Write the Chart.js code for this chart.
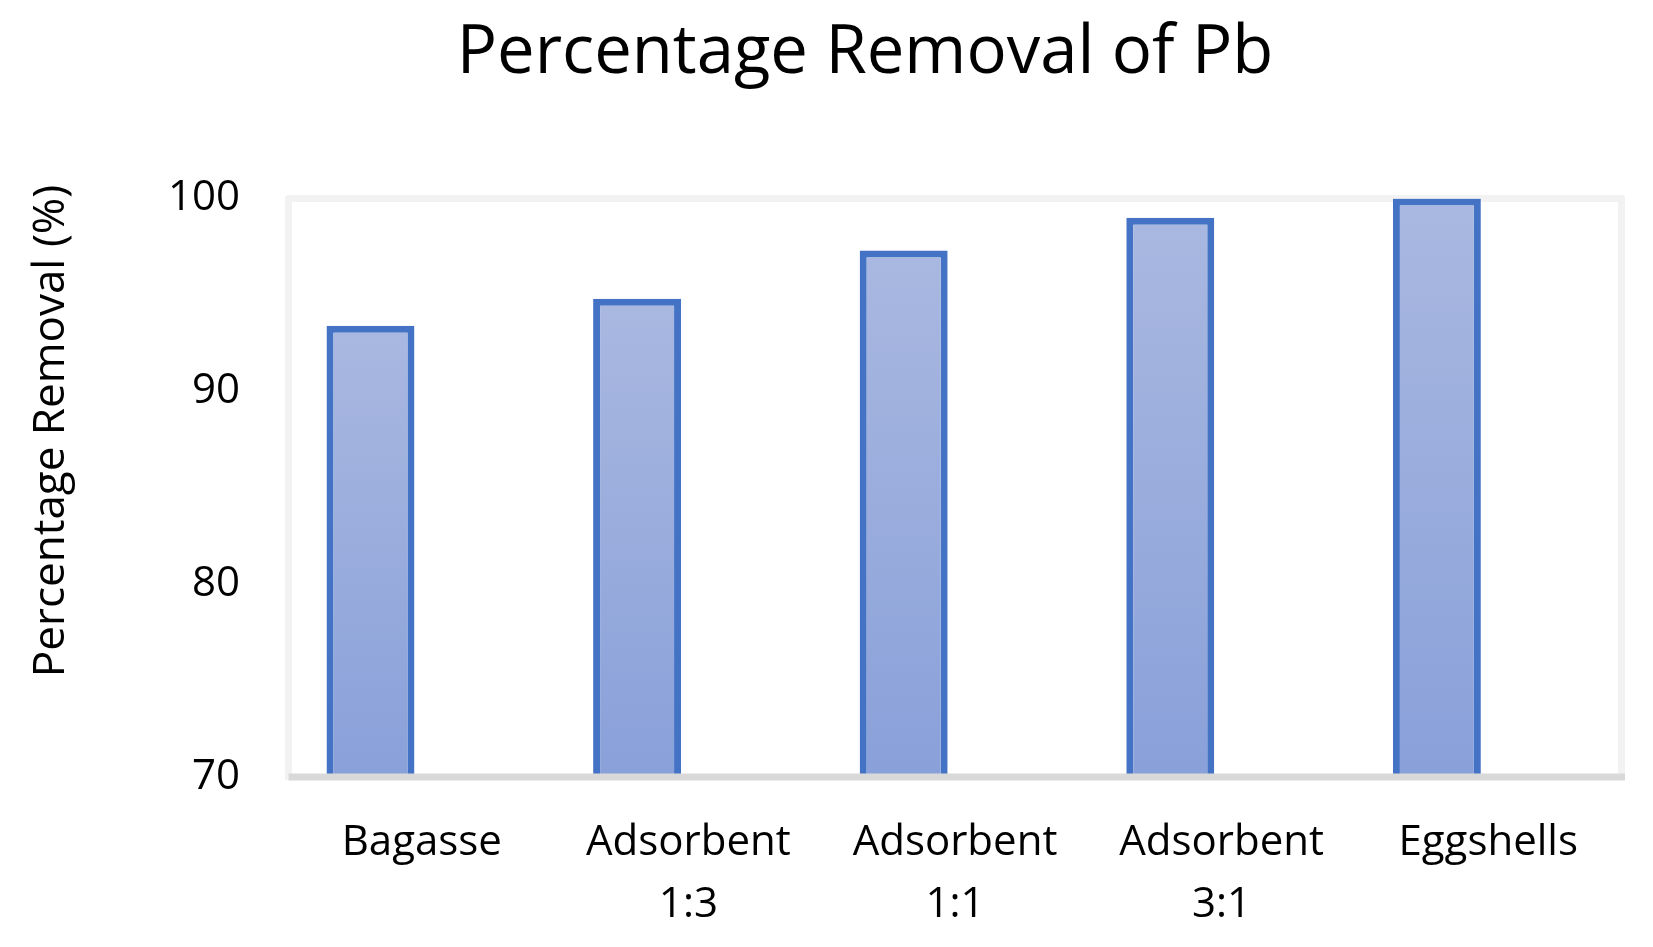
<!DOCTYPE html>
<html>
<head>
<meta charset="utf-8">
<script src="https://cdn.jsdelivr.net/npm/chart.js@4.4.1/dist/chart.umd.min.js"></script>
<style>
html,body{margin:0;padding:0;background:#ffffff;}
#wrap{width:1653px;height:947px;position:relative;}
</style>
</head>
<body>
<div id="wrap"><canvas id="c" width="1653" height="947"></canvas></div>
<script>
// ---- data ----
const categories = [['Bagasse'], ['Adsorbent', '1:3'], ['Adsorbent', '1:1'], ['Adsorbent', '3:1'], ['Eggshells']];
const removalPb = [93.4, 94.8, 97.3, 99.0, 100.0];
const emptySeries = [null, null, null, null, null];
const yTickValues = [70, 80, 90, 100];
const chartTitle = 'Percentage Removal of Pb';
const yAxisTitle = 'Percentage Removal (%)';

const FONT = "'Open Sans'";
Chart.defaults.font.family = FONT;
Chart.defaults.color = '#000000';

const framePlugin = {
  id: 'frame',
  beforeDatasetsDraw(chart) {
    const { ctx, chartArea: a } = chart;
    ctx.save();
    ctx.strokeStyle = '#f2f2f2';
    ctx.lineWidth = 7;
    ctx.lineJoin = 'round';
    ctx.beginPath();
    ctx.moveTo(a.left, a.bottom + 3);
    ctx.lineTo(a.left, a.top);
    ctx.lineTo(a.right, a.top);
    ctx.lineTo(a.right, a.bottom + 3);
    ctx.stroke();
    ctx.restore();
  },
  afterDatasetsDraw(chart) {
    const { ctx, chartArea: a } = chart;
    ctx.save();
    ctx.strokeStyle = '#d9d9d9';
    ctx.lineWidth = 7;
    ctx.beginPath();
    ctx.moveTo(a.left, a.bottom);
    ctx.lineTo(a.right + 3.5, a.bottom);
    ctx.stroke();
    ctx.restore();
  }
};

const yTitlePlugin = {
  id: 'yTitle',
  afterDraw(chart) {
    const ctx = chart.ctx;
    ctx.save();
    ctx.font = "44px " + FONT;
    ctx.fillStyle = '#000000';
    ctx.textAlign = 'center';
    ctx.textBaseline = 'alphabetic';
    ctx.translate(64, 431);
    ctx.rotate(-Math.PI / 2);
    ctx.fillText(yAxisTitle, 0, 0);
    ctx.restore();
  }
};

function barFill(c) {
  const chart = c.chart;
  const area = chart.chartArea;
  if (!area || c.dataIndex === undefined) return '#99acdc';
  const v = c.dataset.data[c.dataIndex];
  if (v == null) return 'rgba(0,0,0,0)';
  const top = chart.scales.y.getPixelForValue(v);
  const g = chart.ctx.createLinearGradient(0, top, 0, area.bottom);
  g.addColorStop(0, '#a9b8e0');
  g.addColorStop(1, '#89a0d9');
  return g;
}

new Chart(document.getElementById('c'), {
  type: 'bar',
  data: {
    labels: categories,
    datasets: [
      {
        label: 'Pb',
        data: removalPb,
        backgroundColor: barFill,
        borderColor: '#4472c4',
        borderWidth: 7,
        borderSkipped: 'start',
        categoryPercentage: 0.77,
        barPercentage: 0.857
      },
      {
        label: '',
        data: emptySeries,
        backgroundColor: 'rgba(0,0,0,0)',
        borderWidth: 0,
        categoryPercentage: 0.77,
        barPercentage: 0.857
      }
    ]
  },
  options: {
    responsive: false,
    animation: false,
    layout: { padding: { left: 108.5, right: 31.5, top: 0, bottom: 0 } },
    plugins: {
      legend: { display: false },
      tooltip: { enabled: false },
      title: {
        display: true,
        text: chartTitle,
        color: '#000000',
        font: { family: FONT, size: 67, weight: 'normal', lineHeight: 1.2 },
        padding: { top: 13.5, bottom: 104.6 }
      }
    },
    scales: {
      x: {
        grid: { display: false, drawTicks: false },
        border: { display: false },
        ticks: {
          color: '#000000',
          font: { family: FONT, size: 42, lineHeight: 1.469 },
          padding: 35,
          maxRotation: 0,
          autoSkip: false
        },
        afterFit(s) { s.height = 170; }
      },
      y: {
        min: 70,
        max: 100,
        afterBuildTicks(s) { s.ticks = yTickValues.map(v => ({ value: v })); },
        grid: { display: false, drawTicks: false },
        border: { display: false },
        ticks: {
          color: '#000000',
          font: { family: FONT, size: 42 },
          padding: 48.5
        },
        afterFit(s) { s.width = 180; }
      }
    }
  },
  plugins: [framePlugin, yTitlePlugin]
});
</script>
</body>
</html>
